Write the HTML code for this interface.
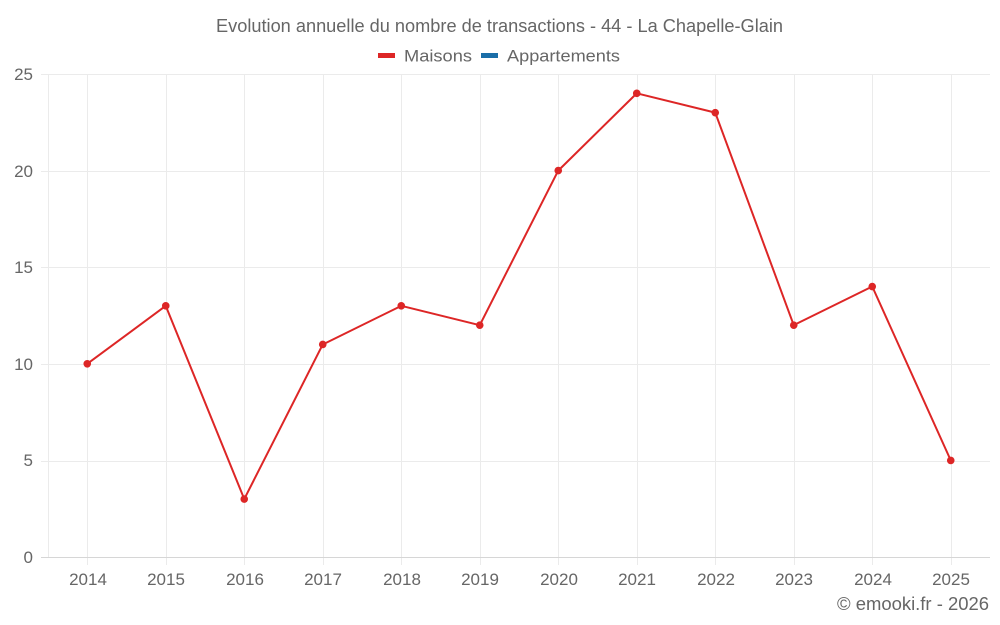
<!DOCTYPE html>
<html>
<head>
<meta charset="utf-8">
<style>
html,body{margin:0;padding:0;background:#fff;}
svg{display:block;}
text{font-family:"Liberation Sans",Arial,sans-serif;fill:#666;}
</style>
</head>
<body>
<svg width="1000" height="625" viewBox="0 0 1000 625" xmlns="http://www.w3.org/2000/svg">
  <rect width="1000" height="625" fill="#fff"/>
  <!-- horizontal grid -->
  <g stroke="#ebebeb" stroke-width="1" shape-rendering="crispEdges">
    <line x1="41" y1="74.5" x2="990" y2="74.5"/>
    <line x1="41" y1="171.5" x2="990" y2="171.5"/>
    <line x1="41" y1="267.5" x2="990" y2="267.5"/>
    <line x1="41" y1="364.5" x2="990" y2="364.5"/>
    <line x1="41" y1="461.5" x2="990" y2="461.5"/>
  </g>
  <!-- vertical grid -->
  <g stroke="#ebebeb" stroke-width="1" shape-rendering="crispEdges">
    <line x1="48.5" y1="74" x2="48.5" y2="557"/>
    <line x1="87.5" y1="74" x2="87.5" y2="565"/>
    <line x1="166.5" y1="74" x2="166.5" y2="565"/>
    <line x1="244.5" y1="74" x2="244.5" y2="565"/>
    <line x1="323.5" y1="74" x2="323.5" y2="565"/>
    <line x1="401.5" y1="74" x2="401.5" y2="565"/>
    <line x1="480.5" y1="74" x2="480.5" y2="565"/>
    <line x1="558.5" y1="74" x2="558.5" y2="565"/>
    <line x1="637.5" y1="74" x2="637.5" y2="565"/>
    <line x1="715.5" y1="74" x2="715.5" y2="565"/>
    <line x1="794.5" y1="74" x2="794.5" y2="565"/>
    <line x1="872.5" y1="74" x2="872.5" y2="565"/>
    <line x1="951.5" y1="74" x2="951.5" y2="565"/>
  </g>
  <!-- x axis line -->
  <line x1="41" y1="557.5" x2="990" y2="557.5" stroke="#d6d6d6" stroke-width="1" shape-rendering="crispEdges"/>

  <!-- y labels -->
  <g font-size="17" text-anchor="end">
    <text x="33" y="80">25</text>
    <text x="33" y="177">20</text>
    <text x="33" y="273">15</text>
    <text x="33" y="370">10</text>
    <text x="33" y="466">5</text>
    <text x="33" y="563">0</text>
  </g>
  <!-- x labels -->
  <g font-size="17" text-anchor="middle">
    <text x="88" y="585">2014</text>
    <text x="166" y="585">2015</text>
    <text x="245" y="585">2016</text>
    <text x="323" y="585">2017</text>
    <text x="402" y="585">2018</text>
    <text x="480" y="585">2019</text>
    <text x="559" y="585">2020</text>
    <text x="637" y="585">2021</text>
    <text x="716" y="585">2022</text>
    <text x="794" y="585">2023</text>
    <text x="873" y="585">2024</text>
    <text x="951" y="585">2025</text>
  </g>

  <!-- title -->
  <text x="216" y="32" font-size="18" textLength="567" lengthAdjust="spacingAndGlyphs">Evolution annuelle du nombre de transactions - 44 - La Chapelle-Glain</text>
  <!-- legend -->
  <rect x="378" y="53" width="17" height="5" fill="#dd2626"/>
  <text x="404" y="61.5" font-size="17" textLength="68" lengthAdjust="spacingAndGlyphs">Maisons</text>
  <rect x="481" y="53" width="17" height="5" fill="#1a6ea8"/>
  <text x="507" y="61.5" font-size="17" textLength="113" lengthAdjust="spacingAndGlyphs">Appartements</text>

  <!-- series -->
  <polyline fill="none" stroke="#dd2626" stroke-width="2" stroke-linejoin="round"
    points="87.25,363.8 165.75,305.84 244.25,499.04 322.75,344.48 401.25,305.84 479.75,325.16 558.25,170.6 636.75,93.32 715.25,112.64 793.75,325.16 872.25,286.52 950.75,460.4"/>
  <g fill="#dd2626">
    <circle cx="87.25" cy="363.8" r="3.8"/>
    <circle cx="165.75" cy="305.84" r="3.8"/>
    <circle cx="244.25" cy="499.04" r="3.8"/>
    <circle cx="322.75" cy="344.48" r="3.8"/>
    <circle cx="401.25" cy="305.84" r="3.8"/>
    <circle cx="479.75" cy="325.16" r="3.8"/>
    <circle cx="558.25" cy="170.6" r="3.8"/>
    <circle cx="636.75" cy="93.32" r="3.8"/>
    <circle cx="715.25" cy="112.64" r="3.8"/>
    <circle cx="793.75" cy="325.16" r="3.8"/>
    <circle cx="872.25" cy="286.52" r="3.8"/>
    <circle cx="950.75" cy="460.4" r="3.8"/>
  </g>

  <!-- credit -->
  <text x="837" y="610" font-size="18" textLength="152" lengthAdjust="spacingAndGlyphs">© emooki.fr - 2026</text>
</svg>
</body>
</html>
